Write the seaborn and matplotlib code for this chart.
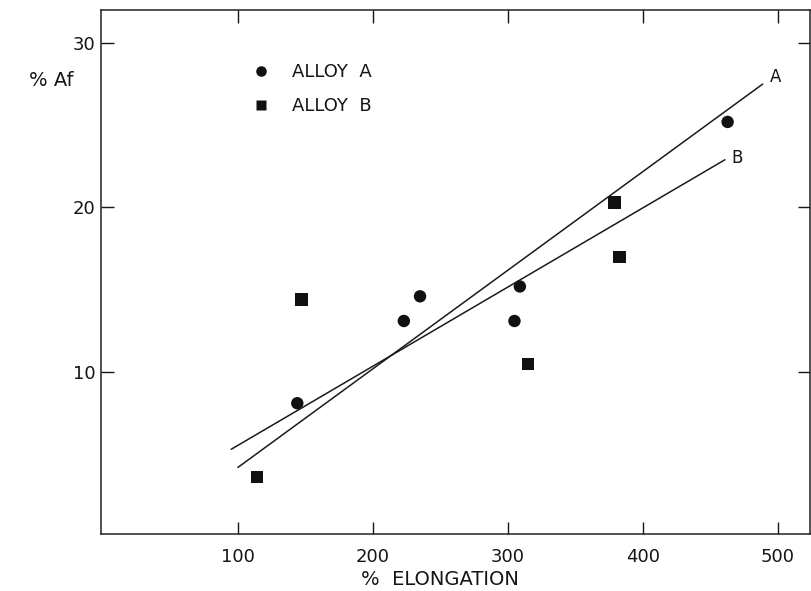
import numpy as np
import pandas as pd
import matplotlib
matplotlib.use("Agg")
import matplotlib.pyplot as plt
import seaborn as sns

# values
alloy_a_elong = [144, 223, 235, 305, 309, 463]
alloy_a_af = [8.1, 13.1, 14.6, 13.1, 15.2, 25.2]
alloy_b_elong = [114, 147, 315, 379, 383]
alloy_b_af = [3.6, 14.4, 10.5, 20.3, 17.0]

# hand-drawn fit lines (end points)
fit_a_x = [100, 489]
fit_a_y = [4.2, 27.5]
fit_b_x = [95, 461]
fit_b_y = [5.3, 22.9]

xticks = [100, 200, 300, 400, 500]
yticks = [10, 20, 30]

df = pd.DataFrame({
    "elong": alloy_a_elong + alloy_b_elong,
    "af": alloy_a_af + alloy_b_af,
    "alloy": ["ALLOY  A"] * len(alloy_a_elong) + ["ALLOY  B"] * len(alloy_b_elong),
})

sns.set_style("ticks")
plt.rcParams["font.family"] = ["DejaVu Sans"]
ink = "#151515"
plt.rcParams.update({"text.color": ink, "xtick.color": ink, "ytick.color": ink,
                     "xtick.labelcolor": ink, "ytick.labelcolor": ink})

fig = plt.figure(figsize=(8.12, 5.91), dpi=100)
ax = fig.add_axes([0.1244, 0.0964, 0.873, 0.8866])

sns.lineplot(x=fit_a_x, y=fit_a_y, ax=ax, color="#1a1a1a", lw=1.1)
sns.lineplot(x=fit_b_x, y=fit_b_y, ax=ax, color="#1a1a1a", lw=1.1)
sns.scatterplot(data=df, x="elong", y="af", style="alloy", markers={"ALLOY  A": "o", "ALLOY  B": "s"},
                color="#111111", s=80, edgecolor="none", ax=ax, legend=True)

ax.text(fit_a_x[1] + 5, fit_a_y[1] + 0.4, "A", fontsize=12, ha="left", va="center")
ax.text(fit_b_x[1] + 5, fit_b_y[1] + 0.1, "B", fontsize=12, ha="left", va="center")

ax.set_xlim(-1.5, 524)
ax.set_ylim(0.15, 32)
ax.set_xticks(xticks)
ax.set_yticks(yticks)
ax.tick_params(direction="in", length=9, width=1, top=True, right=True,
               labelsize=13, pad=4, labeltop=False, labelright=False)
ax.tick_params(axis="x", pad=10)
for s in ax.spines.values():
    s.set_linewidth(1.1)
    s.set_color("#222222")

ax.set_xlabel("")
ax.set_ylabel("")
ax.text(0.478, -0.087, "%  ELONGATION", transform=ax.transAxes, ha="center", va="center", fontsize=14)
ax.text(-0.07, 0.866, "% Af", transform=ax.transAxes, ha="center", va="center", fontsize=14)

leg = ax.legend(loc="upper left", bbox_to_anchor=(0.178, 0.93), frameon=False, fontsize=13,
                handletextpad=0.7, labelspacing=0.9, title=None, markerscale=0.85)

fig.savefig("out.png", dpi=100)
